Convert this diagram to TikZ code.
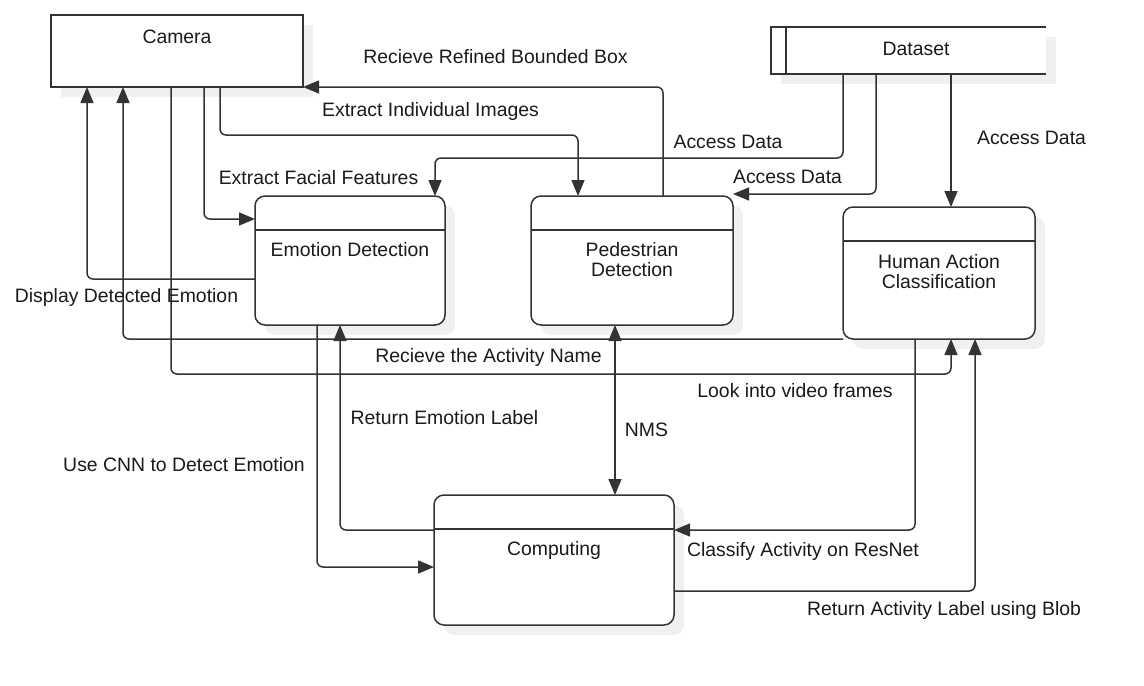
\documentclass[tikz,border=0pt]{standalone}
\usepackage{fontspec}
\setmainfont{Liberation Sans}
\usetikzlibrary{arrows.meta,shadows}
\definecolor{ink}{HTML}{333333}
\definecolor{txt}{HTML}{1A1A1A}

\begin{document}
\begin{tikzpicture}[x=0.5pt, y=-0.5pt,
    box/.style={draw=ink, line width=0.75pt, fill=white, inner sep=0pt, outer sep=0pt,
      drop shadow={shadow xshift=5pt, shadow yshift=-5pt, fill=black!6, opacity=1}},
    proc/.style={box, rounded corners=5pt},
    lbl/.style={text=txt, inner sep=0pt, align=center, font=\fontsize{9.7}{10}\selectfont},
    >={Triangle[length=8pt,width=6.5pt]}]
  \useasboundingbox (0,0) rectangle (1144,685);

  % entities, store and processes
  \node [box, minimum width=126pt, minimum height=36pt] (cam) at (177,51) {};
  \node [box, draw=none, minimum width=137.5pt, minimum height=23.5pt] (data) at (908.5,50.5) {};
  \node [proc, minimum width=95pt, minimum height=64.5pt] (emo) at (350,260.5) {};
  \node [proc, minimum width=101pt, minimum height=64.5pt] (ped) at (632,260.5) {};
  \node [proc, minimum width=96pt, minimum height=66pt] (hum) at (939,273) {};
  \node [proc, minimum width=120pt, minimum height=65pt] (comp) at (554,560) {};

  \begin{scope}[draw=ink, line width=0.75pt]
    \draw (data.north east) -- (data.north west) -- (data.south west) -- (data.south east);
    \draw ([xshift=7.5pt]data.north west) -- ([xshift=7.5pt]data.south west);
    \foreach \p in {emo,ped,hum,comp}
      \draw ([yshift=-17pt]\p.north west) -- ([yshift=-17pt]\p.north east);
  \end{scope}

  \begin{scope}[every node/.style={lbl}]
    \node (camt) at (177,37) {Camera};
    \node (datat) at (916,49) {Dataset};
    \node (emot) at (350,250) {Emotion Detection};
    \node (pedt) at (632,260) {Pedestrian\\Detection};
    \node (humt) at (939,272) {Human Action\\Classification};
    \node (compt) at (554,550) {Computing};
  \end{scope}

  \begin{scope}[->, draw=ink, line width=0.75pt, rounded corners=3pt]
    \draw ([xshift=15.5pt]ped.north) |- (cam.south east);
    \draw ([xshift=21.5pt]cam.south) -- ++(0,48) -| ([xshift=-27pt]ped.north);
    \draw ([xshift=13.5pt]cam.south) |- ([yshift=-11.5pt]emo.north west);
    \draw ([xshift=36pt]data.south west) -- ++(0,84) -| ([xshift=42.5pt]emo.north);
    \draw ([xshift=52.5pt]data.south west) |- ([yshift=1pt]ped.north east);
    \draw ([xshift=90pt]data.south west) -- ([xshift=6pt]hum.north);
    \draw ([yshift=-9.25pt]emo.west) -| ([xshift=-45pt]cam.south);
    \draw (hum.south west) -| ([xshift=-27pt]cam.south);
    \draw ([xshift=-3pt]cam.south) -- ++(0,287) -| ([xshift=6pt]hum.south);
    \draw ([xshift=-16.5pt]emo.south) |- ([yshift=-3.5pt]comp.west);
    \draw ([yshift=15pt]comp.west) -| ([xshift=-5pt]emo.south);
    \draw [<->] ([xshift=-8.5pt]ped.south) -- ([xshift=30.5pt]comp.north);
    \draw ([xshift=-12pt]hum.south) |- ([yshift=15pt]comp.east);
    \draw ([yshift=-15.5pt]comp.east) -| ([xshift=18pt]hum.south);
  \end{scope}

  \begin{scope}[every node/.style={lbl}]
    \node (refine) at (495.5,57) {Recieve Refined Bounded Box};
    \node (indiv) at (430.5,111) {Extract Individual Images};
    \node (facial) at (318.5,178) {Extract Facial Features};
    \node (acc1) at (728,142) {Access Data};
    \node (acc2) at (787.5,177) {Access Data};
    \node (acc3) at (1031.5,138) {Access Data};
    \node (disp) at (126.5,297) {Display Detected Emotion};
    \node (actname) at (488.5,357) {Recieve the Activity Name};
    \node (video) at (795,391) {Look into video frames};
    \node (retemo) at (444.5,418) {Return Emotion Label};
    \node (nms) at (646.5,430) {NMS};
    \node (cnn) at (184,465) {Use CNN to Detect Emotion};
    \node (resnet) at (803,551) {Classify Activity on ResNet};
    \node (blob) at (944,610) {Return Activity Label using Blob};
  \end{scope}
\end{tikzpicture}
\end{document}
